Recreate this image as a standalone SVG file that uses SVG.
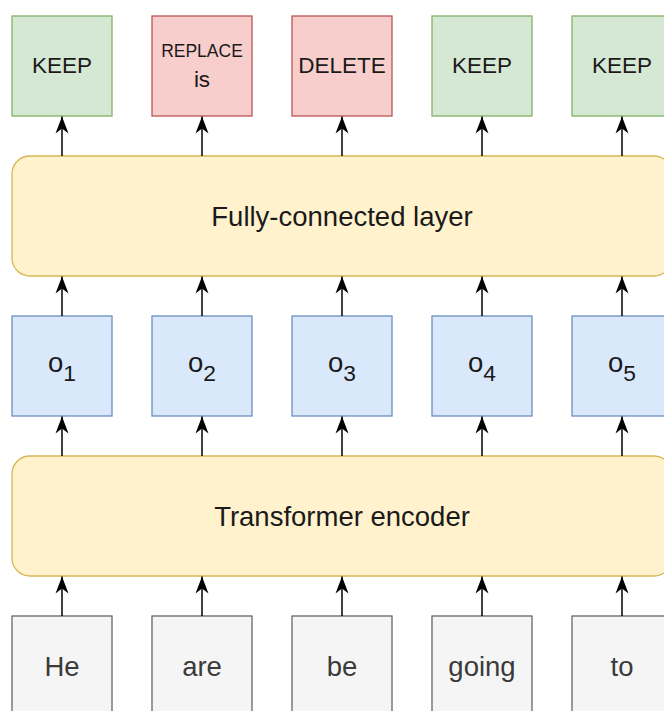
<svg xmlns="http://www.w3.org/2000/svg" width="664" height="711" viewBox="0 0 664 711">
  <style>
    text { font-family: "Liberation Sans", Arial, Helvetica, sans-serif; fill: #1a1a1a; text-anchor: middle; }
    .box { stroke-width: 1.3; }
    .keep { fill: #d5e8d4; stroke: #82b366; }
    .edit { fill: #f8cecc; stroke: #b85450; }
    .out { fill: #dae8fc; stroke: #6c8ebf; }
    .layer { fill: #fff2cc; stroke: #d6b656; }
    .tok { fill: #f5f5f5; stroke: #666666; }
    .tok-t { fill: #3a3a3a; font-size: 27.5px; }
    .lbl { font-size: 22.5px; }
    .big { font-size: 27.5px; }
    .conn line { stroke: #000000; stroke-width: 1.5; fill: none; marker-end: url(#arrow); }
  </style>
  <defs>
    <marker id="arrow" markerUnits="userSpaceOnUse" markerWidth="18" markerHeight="16" viewBox="0 0 18 16" refX="17" refY="8" orient="auto">
      <path d="M0,1.5 L17,8 L0,14.5 L5,8 Z" fill="#000000"/>
    </marker>
  </defs>

  <!-- output tags -->
  <g id="tag1"><rect class="box keep" x="12" y="16" width="100" height="100"/><text class="lbl" x="62" y="73">KEEP</text></g>
  <g id="tag2"><rect class="box edit" x="152" y="16" width="100" height="100"/><text x="202" y="57" style="font-size:17.5px">REPLACE</text><text class="lbl" x="202" y="87">is</text></g>
  <g id="tag3"><rect class="box edit" x="292" y="16" width="100" height="100"/><text class="lbl" x="342" y="73">DELETE</text></g>
  <g id="tag4"><rect class="box keep" x="432" y="16" width="100" height="100"/><text class="lbl" x="482" y="73">KEEP</text></g>
  <g id="tag5"><rect class="box keep" x="572" y="16" width="100" height="100"/><text class="lbl" x="622" y="73">KEEP</text></g>

  <!-- classification layer -->
  <g id="fc-layer"><rect class="box layer" x="12" y="156" width="660" height="120" rx="18" ry="18"/><text class="big" x="342" y="225.5">Fully-connected layer</text></g>

  <!-- encoder outputs -->
  <g id="o1"><rect class="box out" x="12" y="316" width="100" height="100"/><text class="big" x="62" y="372">o<tspan font-size="22.8" dy="9">1</tspan></text></g>
  <g id="o2"><rect class="box out" x="152" y="316" width="100" height="100"/><text class="big" x="202" y="372">o<tspan font-size="22.8" dy="9">2</tspan></text></g>
  <g id="o3"><rect class="box out" x="292" y="316" width="100" height="100"/><text class="big" x="342" y="372">o<tspan font-size="22.8" dy="9">3</tspan></text></g>
  <g id="o4"><rect class="box out" x="432" y="316" width="100" height="100"/><text class="big" x="482" y="372">o<tspan font-size="22.8" dy="9">4</tspan></text></g>
  <g id="o5"><rect class="box out" x="572" y="316" width="100" height="100"/><text class="big" x="622" y="372">o<tspan font-size="22.8" dy="9">5</tspan></text></g>

  <!-- encoder -->
  <g id="encoder"><rect class="box layer" x="12" y="456" width="660" height="120" rx="18" ry="18"/><text class="big" x="342" y="525.5">Transformer encoder</text></g>

  <!-- input tokens -->
  <g id="w1"><rect class="box tok" x="12" y="616" width="100" height="100"/><text class="tok-t" x="62" y="675.5">He</text></g>
  <g id="w2"><rect class="box tok" x="152" y="616" width="100" height="100"/><text class="tok-t" x="202" y="675.5">are</text></g>
  <g id="w3"><rect class="box tok" x="292" y="616" width="100" height="100"/><text class="tok-t" x="342" y="675.5">be</text></g>
  <g id="w4"><rect class="box tok" x="432" y="616" width="100" height="100"/><text class="tok-t" x="482" y="675.5">going</text></g>
  <g id="w5"><rect class="box tok" x="572" y="616" width="100" height="100"/><text class="tok-t" x="622" y="675.5">to</text></g>

  <!-- connectors -->
  <g id="connectors" class="conn">
    <line x1="62" y1="156" x2="62" y2="116.5"/>
    <line x1="202" y1="156" x2="202" y2="116.5"/>
    <line x1="342" y1="156" x2="342" y2="116.5"/>
    <line x1="482" y1="156" x2="482" y2="116.5"/>
    <line x1="622" y1="156" x2="622" y2="116.5"/>

    <line x1="62" y1="316" x2="62" y2="276.5"/>
    <line x1="202" y1="316" x2="202" y2="276.5"/>
    <line x1="342" y1="316" x2="342" y2="276.5"/>
    <line x1="482" y1="316" x2="482" y2="276.5"/>
    <line x1="622" y1="316" x2="622" y2="276.5"/>

    <line x1="62" y1="456" x2="62" y2="416.5"/>
    <line x1="202" y1="456" x2="202" y2="416.5"/>
    <line x1="342" y1="456" x2="342" y2="416.5"/>
    <line x1="482" y1="456" x2="482" y2="416.5"/>
    <line x1="622" y1="456" x2="622" y2="416.5"/>

    <line x1="62" y1="616" x2="62" y2="576.5"/>
    <line x1="202" y1="616" x2="202" y2="576.5"/>
    <line x1="342" y1="616" x2="342" y2="576.5"/>
    <line x1="482" y1="616" x2="482" y2="576.5"/>
    <line x1="622" y1="616" x2="622" y2="576.5"/>
  </g>
</svg>
